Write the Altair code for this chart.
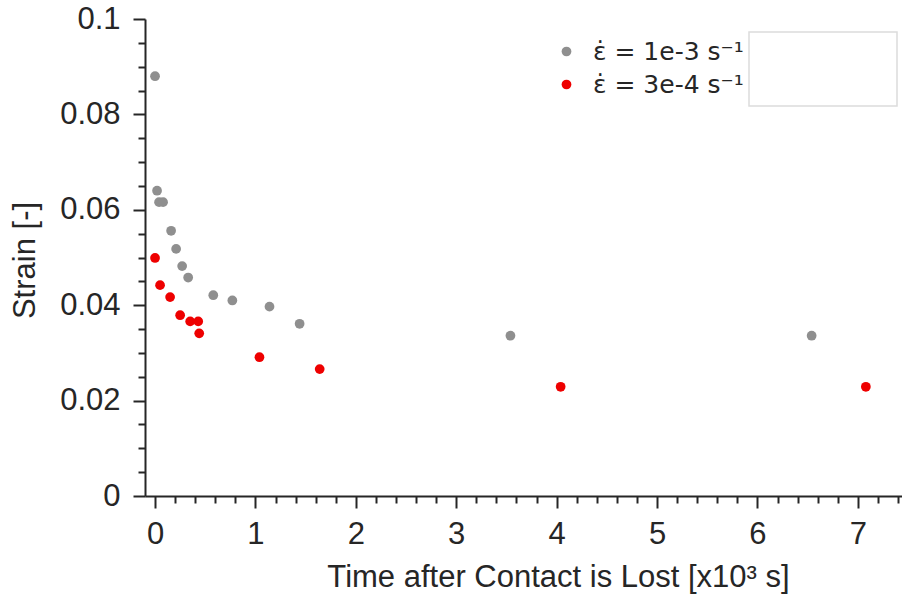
import altair as alt
import pandas as pd

# ---- data ----
series_names = ["ε̇ = 1e-3 s⁻¹", "ε̇ = 3e-4 s⁻¹"]
series_colors = ["#8f8f8f", "#ee0000"]

gray_time = [0.0, 0.02, 0.04, 0.08, 0.16, 0.21, 0.27, 0.33, 0.58, 0.77, 1.14, 1.44, 3.54, 6.54]
gray_strain = [0.0880, 0.0640, 0.0616, 0.0616, 0.0556, 0.0518, 0.0482, 0.0458, 0.0421, 0.0410,
               0.0397, 0.0361, 0.0336, 0.0336]

red_time = [0.0, 0.05, 0.15, 0.25, 0.35, 0.43, 0.44, 1.04, 1.64, 4.04, 7.08]
red_strain = [0.0499, 0.0442, 0.0417, 0.0379, 0.0366, 0.0366, 0.0341, 0.0291, 0.0266, 0.0229, 0.0229]

x_major = [0, 1, 2, 3, 4, 5, 6, 7]
x_minor = [0.2, 0.4, 0.6, 0.8, 1.2, 1.4, 1.6, 1.8, 2.2, 2.4, 2.6, 2.8, 3.2, 3.4, 3.6, 3.8,
           4.2, 4.4, 4.6, 4.8, 5.2, 5.4, 5.6, 5.8, 6.2, 6.4, 6.6, 6.8, 7.2, 7.4]
y_major = [0, 0.02, 0.04, 0.06, 0.08, 0.1]
y_minor = [0.005, 0.01, 0.015, 0.025, 0.03, 0.035, 0.045, 0.05, 0.055, 0.065, 0.07, 0.075,
           0.085, 0.09, 0.095]

x_title = "Time after Contact is Lost [x10³ s]"
y_title = "Strain [-]"

df = pd.DataFrame({
    "time": gray_time + red_time,
    "strain": gray_strain + red_strain,
    "series": [series_names[0]] * len(gray_time) + [series_names[1]] * len(red_time),
})

AX = "#262626"
FONT = "Liberation Sans"
FS = 31

x_scale = alt.Scale(domain=[-0.1, 7.44], nice=False, zero=False)
y_scale = alt.Scale(domain=[0, 0.1], nice=False, zero=False)

x_axis_major = alt.Axis(
    orient="bottom", values=x_major, tickSize=12, tickWidth=2, tickColor=AX,
    domain=True, domainColor=AX, domainWidth=2, grid=False,
    labelFont=FONT, labelFontSize=FS, labelColor=AX, labelPadding=11, labelFlush=False,
    title=x_title, titleFont=FONT, titleFontSize=FS, titleFontWeight="normal", titleColor=AX,
    titleX=413, titleY=90, titleAlign="center", titleBaseline="alphabetic",
)
y_axis_major = alt.Axis(
    orient="left", values=y_major, tickSize=12, tickWidth=2, tickColor=AX, format="~g",
    domain=True, domainColor=AX, domainWidth=2, grid=False,
    labelFont=FONT, labelFontSize=FS, labelColor=AX, labelPadding=13, labelFlush=False,
    title=y_title, titleFont=FONT, titleFontSize=FS, titleFontWeight="normal", titleColor=AX,
    titleX=-111, titleY=241, titleAngle=270, titleAlign="center", titleBaseline="alphabetic",
)
x_axis_minor = alt.Axis(orient="bottom", values=x_minor, tickSize=7, tickWidth=2, tickColor=AX,
                        domain=False, labels=False, grid=False, title=None)
y_axis_minor = alt.Axis(orient="left", values=y_minor, tickSize=7, tickWidth=2, tickColor=AX,
                        domain=False, labels=False, grid=False, title=None)

base = alt.Chart(df)

minor = base.mark_circle(opacity=0).encode(
    x=alt.X("time:Q", scale=x_scale, axis=x_axis_minor),
    y=alt.Y("strain:Q", scale=y_scale, axis=y_axis_minor),
)

points = base.mark_circle(size=95, opacity=1).encode(
    x=alt.X("time:Q", scale=x_scale, axis=x_axis_major),
    y=alt.Y("strain:Q", scale=y_scale, axis=y_axis_major),
    color=alt.Color(
        "series:N",
        scale=alt.Scale(domain=series_names, range=series_colors),
        legend=alt.Legend(
            orient="none", legendX=409, legendY=20, title=None, padding=0,
            symbolType="circle", symbolSize=95, symbolStrokeWidth=0, symbolOpacity=1,
            labelFont="DejaVu Sans", labelFontSize=25, labelColor=AX, labelOffset=14,
            rowPadding=7, labelLimit=400,
        ),
    ),
)

box = alt.Chart(pd.DataFrame({"k": [0]})).mark_rect(
    fill="white", stroke="#dcdcdc", strokeWidth=1.5
).encode(
    x=alt.value(604), x2=alt.value(752), y=alt.value(13), y2=alt.value(87)
)

chart = alt.layer(minor, points, box).resolve_axis(
    x="independent", y="independent"
).properties(
    width=757, height=477,
    padding={"left": 145, "top": 19, "right": 0, "bottom": 98},
    autosize=alt.AutoSizeParams(type="none"),
    background="white",
).configure_view(stroke="transparent")

chart.save("out.html", embed_options={"renderer": "svg", "actions": False})
